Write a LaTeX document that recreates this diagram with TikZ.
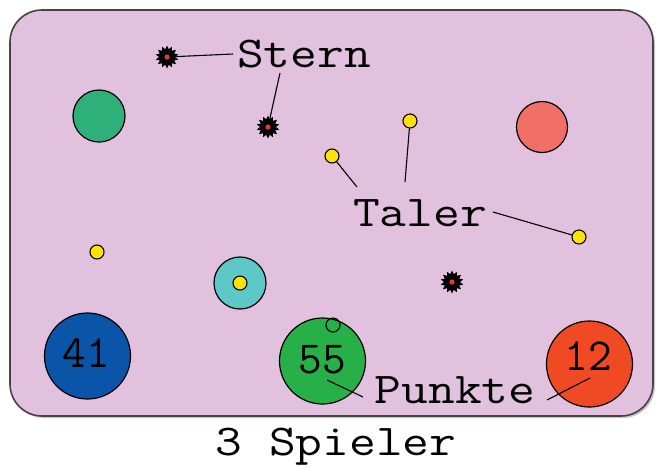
\documentclass[tikz,border=0pt]{standalone}
\usepackage{fontspec}
\usetikzlibrary{shapes.geometric}
\definecolor{bgfill}{HTML}{E1C1DD}
\definecolor{bgline}{HTML}{4A4048}
\definecolor{gtop}{HTML}{2EB07A}
\definecolor{salmon}{HTML}{F07068}
\definecolor{cyanc}{HTML}{5CC8C8}
\definecolor{bluec}{HTML}{0B55A8}
\definecolor{greenc}{HTML}{28B048}
\definecolor{redc}{HTML}{F04A25}
\definecolor{coin}{HTML}{FFE200}
\definecolor{starred}{HTML}{E04020}
\tikzset{
  ball/.style={circle, draw=black, line width=1.2pt, inner sep=0pt},
  coinnode/.style={circle, draw=black, fill=coin, line width=1.1pt, minimum size=14pt, inner sep=0pt},
  starnode/.style={star, star points=14, star point ratio=1.45, fill=black, minimum size=23pt, inner sep=0pt},
  lbl/.style={inner sep=0pt, anchor=base, font=\ttfamily\fontsize{44}{50}\selectfont},
  numlbl/.style={inner sep=0pt, anchor=base, font=\ttfamily\fontsize{46}{50}\selectfont},
  conn/.style={line width=1.1pt, black}
}
\newcommand{\wide}[1]{\scalebox{1.18}[1]{#1}}
\begin{document}
\begin{tikzpicture}[x=1pt,y=-1pt]
\useasboundingbox (0,0) rectangle (656,467);
% board
\fill[gray!45, rounded corners=32pt] (12,12) rectangle (655,418);
\filldraw[fill=bgfill, draw=bgline, line width=1.6pt, rounded corners=32pt] (10,10) rectangle (653,416);
% tokens
\node[ball, fill=gtop, minimum size=52pt] (g1) at (99,116) {};
\node[ball, fill=salmon, minimum size=51pt] (r1) at (542,127) {};
\node[ball, fill=cyanc, minimum size=52pt] (cy) at (240,283) {};
\node[ball, fill=bluec, minimum size=86pt] (p1) at (87.5,356) {};
\node[ball, fill=greenc, minimum size=86pt] (p2) at (322.5,361) {};
\node[ball, fill=redc, minimum size=86pt] (p3) at (589.5,364) {};
\node[circle, draw=black, line width=1.1pt, minimum size=14pt, inner sep=0pt] (ring) at (333,325) {};
% coordinates for connectors
\coordinate (s1) at (167,57);
\coordinate (s2) at (268,127);
\coordinate (s3) at (452,282);
\coordinate (c1) at (332,156);
\coordinate (c2) at (410,121);
\coordinate (c3) at (579,237);
\coordinate (c4) at (97,252);
\coordinate (sternA) at (233,54);
\coordinate (sternB) at (280,73);
\coordinate (talerA) at (357,187);
\coordinate (talerB) at (405,182);
\coordinate (talerC) at (493,212);
\coordinate (pA1) at (327,380);
\coordinate (pA2) at (363,397);
\coordinate (pB1) at (590,378);
\coordinate (pB2) at (547,400);
% connectors
\draw[conn] (s1) -- (sternA);
\draw[conn] (sternB) -- (s2);
\draw[conn] (c1) -- (talerA);
\draw[conn] (c2) -- (talerB);
\draw[conn] (talerC) -- (c3);
\draw[conn] (pA1) -- (pA2);
\draw[conn] (pB1) -- (pB2);
% stars
\foreach \s in {s1,s2,s3}{
  \node[starnode] (\s n) at (\s) {};
  \fill[starred] (\s) circle (2.6pt);
}
% coins
\node[coinnode] (c1n) at (c1) {};
\node[coinnode] (c2n) at (c2) {};
\node[coinnode] (c3n) at (c3) {};
\node[coinnode] (c4n) at (c4) {};
\node[coinnode] (c5n) at (cy) {};
% numbers
\node[numlbl] (n41) at (86,367) {41};
\node[numlbl] (n55) at (322.5,373) {55};
\node[numlbl] (n12) at (588,370) {12};
% labels
\node[lbl] (stern) at (304,67) {\wide{Stern}};
\node[lbl] (taler) at (420,226) {\wide{Taler}};
\node[lbl] (punkte) at (455,403) {\wide{Punkte}};
\node[lbl] (spieler) at (336,455) {\wide{3 Spieler}};
\end{tikzpicture}
\end{document}
